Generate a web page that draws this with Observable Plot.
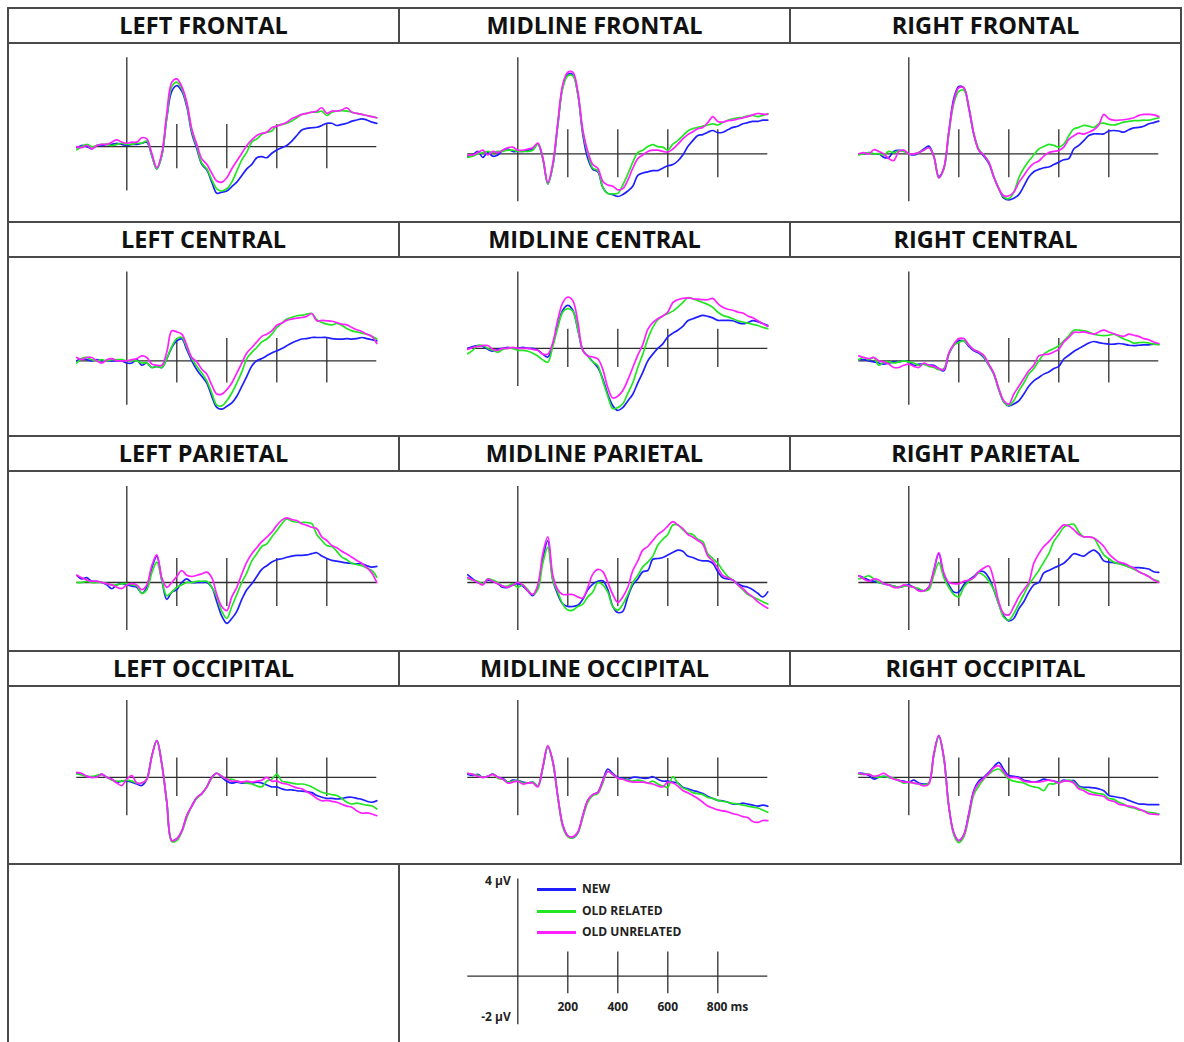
<!DOCTYPE html>
<html>
<head>
<meta charset="utf-8">
<script src="https://cdn.jsdelivr.net/npm/d3@7"></script>
<script src="https://cdn.jsdelivr.net/npm/@observablehq/plot@0.6"></script>
<style>
  body { margin: 0; background: #fff; font-family: "Open Sans", sans-serif; }
  #fig { position: relative; width: 1184px; height: 1042px; overflow: hidden; background: #fff; }
  .ln { position: absolute; background: #4a4a4a; z-index: 3; }
  .ttl { position: absolute; height: 35px; line-height: 35px; text-align: center;
         font-weight: 700; font-size: 23.5px; color: #111; white-space: nowrap; z-index: 2; }
  .panel { position: absolute; z-index: 1; }
  .key { position: absolute; font-weight: 700; font-size: 12px; line-height: 16px; color: #222; z-index: 2; }
  .sw { position: absolute; height: 3px; width: 39px; z-index: 2; }
</style>
</head>
<body>
<div id="fig"></div>
<script>
// ---- data -------------------------------------------------------------
const sides = ["LEFT", "MIDLINE", "RIGHT"];
const areas = ["FRONTAL", "CENTRAL", "PARIETAL", "OCCIPITAL"];
const conditions = ["NEW", "OLD RELATED", "OLD UNRELATED"];
const palette = ["#1f1fff", "#22e622", "#ff1fff"];
const timeTicks = [200, 400, 600, 800];
const timeDomain = [-200, 1000];
const voltDomain = [-2, 4];
const voltLabels = [4, -2];

// sample times (ms)
const times = [-200,-180,-160,-140,-120,-100,-80,-60,-40,-20,0,20,40,60,80,100,120,140,160,180,
  200,220,240,260,280,300,320,340,360,380,400,420,440,460,480,500,520,540,560,580,
  600,620,640,660,680,700,720,740,760,780,800,820,840,860,880,900,920,940,960,980,1000];

// amplitudes (µV), one value per sample time
const lfNew = [-0.05,0.05,0.0,-0.1,0.05,0.05,0.1,0.1,0.15,0.1,0.05, 0.1,0.1,0.15,0.2,-0.4, -1.0,-0.4,1.3,2.5,2.75, 2.5,1.8,0.6,-0.1,-0.8, -1.05,-1.6,-2.1,-2.05,-2.0, -1.8,-1.6,-1.3,-1.0,-0.8, -0.5,-0.45,-0.5,-0.3,-0.15, -0.05,0.05,0.25,0.5,0.75, 0.82,0.85,0.87,0.95,1.05, 1.05,0.95,1.0,1.05,1.15, 1.2,1.25,1.2,1.1,1.05];
const lfOldRel = [-0.15,0.0,0.1,0.0,0.05,0.1,0.1,0.05,0.1,0.15,0.1, 0.1,0.15,0.15,0.25,-0.4, -1.0,-0.4,1.3,2.7,2.9, 2.6,1.9,0.7,0.0,-0.75, -1.0,-1.5,-1.9,-2.0,-1.9, -1.6,-1.1,-0.6,-0.25,0.2, 0.35,0.55,0.65,0.7,0.95, 1.0,1.05,1.15,1.3,1.45, 1.5,1.55,1.55,1.6,1.4, 1.55,1.6,1.62,1.6,1.55, 1.5,1.45,1.4,1.35,1.3];
const lfOldUnrel = [0.0,-0.05,0.05,-0.1,0.05,0.1,0.1,0.2,0.3,0.2,0.15, 0.2,0.2,0.4,0.35,-0.3, -0.95,-0.3,1.5,2.9,3.05, 2.7,2.0,0.8,0.1,-0.55, -0.8,-1.2,-1.55,-1.6,-1.4, -1.0,-0.65,-0.3,0.05,0.3, 0.5,0.6,0.65,0.85,0.92, 1.0,1.1,1.25,1.35,1.45, 1.5,1.55,1.6,1.75,1.5, 1.6,1.6,1.65,1.75,1.55, 1.5,1.45,1.4,1.35,1.3];

const mfNew = [-0.1,-0.05,0.1,-0.15,0.05,-0.1,-0.05,0.15,0.2,0.1,0.1, 0.1,0.15,0.2,0.4,-0.2, -1.25,-0.5,1.2,2.8,3.3, 3.3,2.5,0.8,-0.2,-0.65, -0.75,-1.4,-1.65,-1.7,-1.78, -1.7,-1.55,-1.35,-0.9,-0.8, -0.75,-0.7,-0.7,-0.6,-0.5, -0.45,-0.3,-0.05,0.3,0.55, 0.76,0.8,0.9,0.97,0.88, 0.9,1.0,1.1,1.15,1.25, 1.3,1.35,1.35,1.4,1.4];
const mfOldRel = [-0.15,-0.1,0.0,0.05,0.1,0.05,0.1,0.1,0.15,0.15,0.1, 0.1,0.1,0.15,0.4,-0.2, -1.25,-0.5,1.2,2.75,3.25, 3.25,2.5,0.9,0.0,-0.6, -0.7,-1.4,-1.65,-1.67,-1.65, -1.3,-0.85,-0.35,0.05,0.15, 0.3,0.38,0.3,0.28,0.15, 0.4,0.55,0.75,0.95,1.05, 1.1,1.15,1.2,1.25,1.2, 1.3,1.4,1.46,1.5,1.52, 1.58,1.6,1.55,1.6,1.67];
const mfOldUnrel = [-0.05,-0.05,0.05,0.15,-0.05,0.1,0.05,0.15,0.25,0.28,0.15, 0.15,0.2,0.25,0.45,-0.15, -1.2,-0.4,1.3,2.9,3.4, 3.4,2.6,1.0,0.1,-0.45, -0.6,-1.15,-1.3,-1.35,-1.5, -1.45,-1.1,-0.6,-0.2,-0.05, 0.1,0.15,0.15,0.1,0.07, 0.2,0.4,0.62,0.8,0.92, 1.05,1.1,1.3,1.55,1.35, 1.32,1.38,1.4,1.45,1.5, 1.55,1.62,1.68,1.65,1.64];

const rfNew = [0.0,0.0,0.05,0.0,0.0,-0.15,-0.15,0.1,0.14,0.12,0.0, -0.05,0.05,0.2,0.32,-0.1, -0.95,-0.6,0.9,2.3,2.8, 2.75,1.9,0.8,0.15,-0.1, -0.4,-0.97,-1.45,-1.85,-1.92, -1.85,-1.7,-1.35,-0.97,-0.75, -0.65,-0.58,-0.55,-0.45,-0.35, -0.25,-0.2,0.2,0.35,0.55, 0.76,0.83,0.83,0.83,0.95, 0.97,0.95,0.9,1.0,1.08, 1.1,1.15,1.25,1.3,1.36];
const rfOldRel = [-0.05,0.0,0.05,0.0,0.0,-0.05,0.1,0.05,0.12,0.1,0.0, 0.0,0.05,0.15,0.25,-0.1, -1.0,-0.65,0.8,2.1,2.6, 2.65,1.95,0.85,0.2,-0.05, -0.35,-0.95,-1.45,-1.8,-1.87, -1.6,-1.0,-0.6,-0.3,-0.05, 0.2,0.3,0.39,0.35,0.28, 0.4,0.75,1.04,1.1,1.18, 1.15,1.1,1.25,1.28,1.22, 1.2,1.25,1.32,1.35,1.38, 1.38,1.4,1.4,1.45,1.5];
const rfOldUnrel = [0.0,0.05,0.0,0.17,0.1,0.0,-0.2,-0.28,0.1,0.15,0.0, 0.0,0.05,0.15,0.25,-0.1, -1.0,-0.6,0.9,2.2,2.75, 2.75,1.95,0.85,0.15,-0.05, -0.35,-0.95,-1.45,-1.75,-1.75, -1.6,-1.2,-0.9,-0.6,-0.4, -0.3,-0.1,0.05,0.1,0.14, 0.28,0.6,0.75,0.86,0.82, 0.9,1.0,1.2,1.64,1.46, 1.4,1.4,1.42,1.45,1.5, 1.6,1.64,1.64,1.62,1.55];

const lcNew = [0.0,0.1,0.05,0.0,0.05,0.0,0.0,0.0,0.0,0.0,-0.1, -0.1,0.05,-0.2,-0.1,-0.3, -0.25,-0.3,0.1,0.6,0.9, 0.98,0.5,0.0,-0.4,-0.7, -1.0,-1.6,-2.1,-2.18,-2.05, -1.9,-1.6,-1.15,-0.7,-0.23, 0.0,0.1,0.23,0.35,0.45, 0.55,0.68,0.8,0.9,0.98, 1.0,1.05,1.05,1.05,1.05, 1.0,0.98,0.98,1.0,0.98, 1.0,1.05,1.0,0.95,0.9];
const lcOldRel = [-0.1,0.1,0.15,0.05,0.0,0.05,0.0,0.05,0.05,0.05,0.0, 0.0,0.0,-0.1,-0.1,-0.3, -0.25,-0.3,0.1,0.65,1.0, 1.05,0.6,0.1,-0.25,-0.55, -0.9,-1.45,-2.0,-2.03,-1.8, -1.45,-1.0,-0.5,0.1,0.38, 0.6,0.85,0.98,1.2,1.5, 1.7,1.88,1.95,2.03,2.05, 2.1,2.13,1.85,1.73,1.65, 1.62,1.68,1.6,1.45,1.35, 1.3,1.25,1.2,1.1,0.98];
const lcOldUnrel = [0.15,0.05,0.15,0.15,0.0,-0.1,0.05,0.1,0.0,0.0,0.0, 0.05,0.1,0.22,0.15,-0.15, -0.2,-0.2,0.4,1.35,1.3, 1.2,0.7,0.15,-0.05,-0.38, -0.6,-1.1,-1.5,-1.5,-1.3, -1.0,-0.55,-0.1,0.35,0.6, 0.85,1.1,1.2,1.35,1.6, 1.7,1.82,1.88,1.92,1.95, 2.0,2.13,1.8,1.82,1.8, 1.78,1.72,1.65,1.62,1.5, 1.4,1.32,1.2,1.1,0.78];

const mcNew = [0.0,0.1,0.15,0.1,-0.05,-0.15,-0.05,0.0,0.05,0.0,0.0, 0.05,0.0,0.0,-0.1,-0.3, -0.45,0.2,1.2,2.0,2.25, 2.0,1.0,-0.1,-0.4,-0.7, -1.0,-1.6,-2.4,-3.0,-3.25, -3.1,-2.75,-2.4,-1.8,-1.25, -0.65,-0.3,0.0,0.24,0.6, 0.8,0.95,1.15,1.45,1.55, 1.65,1.73,1.68,1.6,1.47, 1.47,1.47,1.45,1.35,1.29, 1.35,1.45,1.4,1.3,1.2];
const mcOldRel = [-0.28,-0.1,0.15,0.15,0.0,-0.1,-0.2,-0.05,0.0,0.0,-0.1, -0.1,-0.15,-0.25,-0.4,-0.6, -0.72,0.1,1.1,1.9,2.08, 1.95,1.0,-0.1,-0.4,-0.7, -0.9,-1.7,-2.5,-3.15,-3.1, -2.9,-2.35,-1.8,-1.0,-0.3, 0.5,1.1,1.5,1.7,1.82, 1.95,2.16,2.4,2.65,2.6, 2.5,2.4,2.3,2.15,1.9, 1.73,1.65,1.55,1.45,1.38, 1.32,1.26,1.2,1.1,1.03];
const mcOldUnrel = [-0.05,0.05,0.1,0.15,0.15,-0.05,-0.1,0.0,0.0,0.05,0.0, 0.0,0.0,-0.05,-0.1,-0.3, -0.3,0.3,1.5,2.4,2.69, 2.5,1.4,-0.1,-0.4,-0.45, -0.55,-1.1,-2.05,-2.6,-2.5, -2.2,-1.65,-1.0,-0.35,0.2, 1.0,1.35,1.55,1.7,1.9, 2.4,2.55,2.62,2.65,2.6, 2.58,2.55,2.55,2.62,2.35, 2.15,2.05,2.0,1.9,1.85, 1.7,1.6,1.45,1.3,1.15];

const rcNew = [0.05,0.05,0.0,-0.05,-0.1,-0.15,-0.1,-0.05,-0.05,0.0,-0.05, -0.2,-0.15,-0.15,-0.2,-0.2, -0.35,-0.45,0.3,0.7,0.9, 0.9,0.65,0.45,0.35,0.15, -0.2,-0.6,-1.3,-1.85,-2.03, -1.95,-1.8,-1.5,-1.15,-0.9, -0.75,-0.6,-0.5,-0.35,-0.25, 0.08,0.25,0.42,0.55,0.68, 0.8,0.87,0.82,0.78,0.75, 0.75,0.78,0.75,0.7,0.68, 0.7,0.72,0.72,0.75,0.75];
const rcOldRel = [0.05,0.15,0.05,0.15,-0.2,-0.05,-0.05,-0.1,-0.05,0.0,-0.05, -0.1,-0.2,-0.15,-0.25,-0.3, -0.4,-0.35,0.3,0.7,0.83, 0.9,0.7,0.5,0.4,0.2, -0.2,-0.6,-1.3,-1.85,-2.0, -1.8,-1.35,-1.0,-0.6,-0.35, 0.0,0.3,0.45,0.55,0.68, 0.9,1.13,1.38,1.38,1.35, 1.3,1.2,1.15,1.13,1.15, 1.2,1.1,0.98,0.9,0.8, 0.82,0.83,0.8,0.75,0.72];
const rcOldUnrel = [0.22,0.15,0.1,0.15,0.0,-0.05,-0.15,-0.3,-0.3,-0.2,-0.15, -0.25,-0.3,-0.1,-0.2,-0.25, -0.35,-0.4,0.35,0.75,1.0, 1.0,0.72,0.5,0.4,0.25, -0.15,-0.55,-1.25,-1.8,-1.95, -1.5,-1.15,-0.8,-0.45,-0.2, 0.22,0.28,0.3,0.4,0.52, 0.85,1.05,1.28,1.28,1.3, 1.25,1.2,1.3,1.38,1.3, 1.22,1.15,1.1,1.2,1.15, 1.1,1.0,0.95,0.85,0.78];

const lpNew = [0.3,0.15,0.2,0.05,0.05,0.0,-0.1,-0.26,-0.1,-0.05,-0.1, -0.15,-0.2,-0.45,-0.2,0.6, 1.1,0.1,-0.7,-0.4,-0.3, 0.0,0.15,0.0,0.0,0.0, 0.0,-0.2,-0.8,-1.4,-1.7, -1.5,-1.2,-0.7,-0.3,-0.05, 0.25,0.55,0.7,0.85,0.95, 0.99,1.05,1.1,1.13,1.13, 1.15,1.2,1.24,1.1,1.0, 0.92,0.89,0.85,0.82,0.8, 0.78,0.78,0.7,0.64,0.67];
const lpOldRel = [0.0,0.0,0.05,0.0,0.0,0.0,-0.05,-0.1,-0.1,-0.05,-0.05, -0.1,-0.15,-0.45,-0.3,0.4, 0.85,0.1,-0.55,-0.4,-0.2, -0.1,0.0,0.0,0.05,0.05, 0.05,-0.2,-0.6,-1.2,-1.5, -1.0,-0.5,0.0,0.4,0.9, 1.2,1.5,1.61,1.9,2.17, 2.45,2.65,2.55,2.51,2.5, 2.5,2.45,2.0,1.75,1.54, 1.5,1.3,1.06,0.95,0.8, 0.75,0.7,0.6,0.5,0.22];
const lpOldUnrel = [0.3,0.2,0.1,0.05,0.05,0.0,-0.05,-0.1,-0.2,-0.25,-0.1, -0.05,-0.1,-0.3,-0.1,0.7, 1.15,0.2,-0.2,0.0,0.25, 0.5,0.3,0.25,0.3,0.36, 0.43,0.2,-0.5,-1.0,-1.17, -0.6,-0.2,0.35,0.85,1.2, 1.45,1.7,1.89,2.1,2.38, 2.6,2.69,2.62,2.58,2.45, 2.38,2.3,2.24,1.9,1.75, 1.54,1.45,1.3,1.19,1.05, 0.92,0.8,0.62,0.4,0.0];

const mpNew = [0.32,0.15,0.0,-0.05,0.1,0.05,-0.05,-0.2,-0.2,-0.1,-0.05, -0.15,-0.35,-0.55,-0.2,1.0, 1.74,0.1,-0.5,-0.9,-1.0, -1.0,-0.95,-0.7,-0.3,-0.07, 0.05,0.07,-0.3,-1.0,-1.25, -1.2,-0.6,-0.1,0.15,0.45, 0.5,0.97,1.0,1.04,1.15, 1.25,1.35,1.3,1.1,1.04, 0.95,0.9,0.9,0.8,0.45, 0.2,0.15,0.1,-0.05,-0.15, -0.2,-0.3,-0.45,-0.6,-0.39];
const mpOldRel = [0.15,0.1,0.05,-0.05,0.15,0.1,0.0,-0.15,-0.15,-0.05,-0.2, -0.1,-0.3,-0.5,-0.3,0.8, 1.46,0.1,-0.4,-0.9,-1.15, -1.15,-1.0,-0.9,-0.6,-0.4, 0.0,-0.1,-0.4,-1.0,-1.15, -0.9,-0.5,0.0,0.3,0.65, 0.85,1.1,1.55,1.8,2.0, 2.4,2.4,2.2,2.05,2.0, 1.8,1.7,1.2,1.0,0.8, 0.5,0.25,0.1,-0.1,-0.3, -0.5,-0.6,-0.7,-0.8,-0.9];
const mpOldUnrel = [0.2,0.1,0.0,-0.1,0.14,0.05,-0.05,-0.15,-0.2,-0.1,0.0, -0.1,-0.35,-0.5,-0.1,1.2, 1.9,0.3,-0.3,-0.5,-0.5, -0.5,-0.6,-0.65,-0.2,0.35, 0.55,0.45,0.0,-0.5,-0.83, -0.6,-0.2,0.5,0.9,1.35, 1.5,1.75,2.0,2.15,2.35, 2.54,2.4,2.25,2.0,1.9, 1.75,1.6,1.1,0.9,0.6, 0.3,0.2,0.1,-0.1,-0.25, -0.45,-0.6,-0.8,-0.95,-1.07];

const rpNew = [0.28,0.2,0.1,0.05,0.0,-0.05,-0.1,-0.15,-0.2,-0.15,-0.1, -0.2,-0.3,-0.35,-0.2,0.5, 1.2,0.3,-0.1,-0.4,-0.4, -0.1,0.1,0.25,0.45,0.45, 0.2,-0.3,-0.9,-1.4,-1.6, -1.5,-1.1,-0.8,-0.4,-0.1, 0.0,0.4,0.5,0.6,0.7, 0.8,1.0,1.2,1.15,1.1, 1.25,1.35,1.2,0.9,0.85, 0.83,0.8,0.75,0.65,0.62, 0.62,0.6,0.56,0.45,0.42];
const rpOldRel = [0.15,0.2,0.28,0.15,0.0,-0.05,-0.1,-0.15,-0.2,-0.15,-0.15, -0.2,-0.25,-0.35,-0.3,0.3, 0.83,0.2,-0.2,-0.5,-0.6, -0.2,0.05,0.2,0.4,0.3, 0.05,-0.3,-0.9,-1.45,-1.57, -1.3,-0.9,-0.5,-0.1,0.2, 0.5,0.85,1.2,1.7,2.0, 2.3,2.4,2.43,2.1,1.9, 1.9,1.85,1.5,1.15,1.0, 0.85,0.78,0.72,0.65,0.55, 0.45,0.35,0.25,0.12,0.05];
const rpOldUnrel = [0.28,0.15,0.05,0.15,0.1,-0.05,-0.1,-0.2,-0.2,-0.1,-0.15, -0.2,-0.35,-0.35,-0.2,0.5, 1.25,0.4,0.0,-0.05,-0.05, 0.05,0.1,0.2,0.45,0.6, 0.69,0.1,-0.8,-1.3,-1.35, -1.0,-0.6,-0.3,0.0,0.8, 1.2,1.5,1.7,1.95,2.2, 2.4,2.35,2.2,2.0,1.9, 1.9,1.85,1.7,1.5,1.2, 1.0,0.85,0.8,0.7,0.6, 0.45,0.35,0.25,0.1,0.0];

const loNew = [0.2,0.15,0.05,0.0,0.05,0.15,0.0,-0.1,-0.25,-0.2,-0.2, -0.25,-0.35,-0.43,-0.1,1.1, 1.91,0.7,-1.3,-3.3,-3.2, -2.8,-2.0,-1.5,-1.05,-0.85, -0.5,0.0,0.21,0.0,-0.2, -0.3,-0.25,-0.3,-0.3,-0.3, -0.25,-0.3,-0.4,-0.5,-0.5, -0.6,-0.66,-0.65,-0.7,-0.72, -0.75,-0.8,-0.95,-1.04,-1.1, -1.1,-1.13,-1.1,-1.05,-1.04, -1.1,-1.15,-1.25,-1.3,-1.22];
const loOldRel = [0.17,0.12,0.05,0.05,0.1,0.15,0.0,-0.15,-0.2,-0.2,-0.15, -0.2,-0.3,-0.3,-0.1,1.1, 1.91,0.7,-1.3,-3.35,-3.3, -2.85,-2.1,-1.5,-1.1,-0.87, -0.5,-0.05,0.21,0.05,-0.1, -0.1,-0.2,-0.25,-0.3,-0.35, -0.45,-0.5,-0.2,-0.1,0.17, -0.2,-0.25,-0.3,-0.35,-0.35, -0.4,-0.5,-0.65,-0.78,-0.85, -0.9,-0.95,-1.1,-1.3,-1.39, -1.35,-1.4,-1.45,-1.48,-1.65];
const loOldUnrel = [0.26,0.2,0.05,0.0,0.0,0.17,0.0,-0.1,-0.3,-0.43,-0.1, 0.09,-0.3,-0.3,-0.1,1.1, 1.91,0.7,-1.3,-3.3,-3.2, -2.8,-2.0,-1.5,-1.05,-0.85, -0.5,0.0,0.21,0.05,-0.1, -0.2,-0.2,-0.25,-0.2,-0.25, -0.2,-0.15,0.0,-0.2,-0.2, -0.3,-0.35,-0.45,-0.55,-0.6, -0.75,-0.9,-1.1,-1.22,-1.2, -1.25,-1.3,-1.4,-1.5,-1.56, -1.75,-1.87,-1.85,-1.91,-2.0];

const moNew = [0.15,0.1,0.15,0.0,0.05,0.17,0.0,-0.05,-0.25,-0.15,-0.17, -0.25,-0.3,-0.25,-0.45,0.5, 1.6,0.8,-1.0,-2.5,-3.05, -3.15,-2.9,-2.0,-1.2,-0.9, -0.78,-0.17,0.43,0.2,0.0, -0.05,-0.1,0.0,0.0,-0.05, -0.05,0.03,-0.1,-0.2,-0.2, -0.25,-0.3,-0.52,-0.6,-0.69, -0.75,-0.85,-1.0,-1.1,-1.2, -1.22,-1.3,-1.39,-1.4,-1.35, -1.4,-1.45,-1.5,-1.45,-1.51];
const moOldRel = [0.2,0.15,0.1,0.0,0.05,0.17,-0.05,-0.1,-0.25,-0.2,-0.17, -0.3,-0.3,-0.25,-0.45,0.5, 1.6,0.8,-1.0,-2.6,-3.1, -3.15,-2.9,-2.1,-1.3,-0.95, -0.85,-0.3,0.3,0.15,-0.05, -0.1,-0.15,-0.2,-0.15,-0.2, -0.3,-0.2,-0.35,-0.45,-0.52, 0.03,-0.3,-0.55,-0.65,-0.8, -0.85,-0.9,-1.05,-1.1,-1.2, -1.25,-1.3,-1.35,-1.39,-1.45, -1.5,-1.55,-1.6,-1.7,-1.82];
const moOldUnrel = [0.2,0.15,0.05,0.0,0.05,0.15,0.0,-0.1,-0.3,-0.25,-0.2, -0.35,-0.3,-0.3,-0.5,0.55, 1.65,0.85,-1.0,-2.5,-3.05, -3.1,-2.85,-2.0,-1.2,-0.9, -0.8,-0.2,0.3,0.15,-0.05, -0.1,-0.2,-0.25,-0.25,-0.25, -0.3,-0.35,-0.45,-0.5,-0.25, -0.3,-0.45,-0.69,-0.8,-0.95, -1.1,-1.3,-1.5,-1.6,-1.7, -1.75,-1.8,-1.9,-1.95,-2.05, -2.1,-2.3,-2.35,-2.25,-2.26];

const roNew = [0.21,0.2,0.1,-0.09,0.0,0.05,0.0,-0.05,-0.17,-0.2,-0.26, -0.15,-0.3,-0.35,-0.3,1.2, 2.17,1.04,-1.5,-2.9,-3.3, -3.0,-1.9,-0.69,-0.2,0.0, 0.26,0.55,0.78,0.4,0.09, 0.05,0.0,-0.15,-0.2,-0.25, -0.2,-0.1,-0.15,-0.2,-0.26, -0.15,-0.2,-0.17,-0.45,-0.52, -0.52,-0.55,-0.6,-0.7,-0.95, -1.0,-1.05,-1.1,-1.2,-1.3, -1.39,-1.4,-1.42,-1.42,-1.42];
const roOldRel = [0.17,0.15,0.17,0.05,0.0,0.05,0.0,-0.05,-0.15,-0.3,-0.26, -0.3,-0.35,-0.4,-0.3,1.1, 2.1,1.0,-1.5,-3.0,-3.4, -3.1,-2.1,-0.9,-0.45,-0.1, 0.15,0.35,0.43,0.2,-0.1, -0.2,-0.25,-0.3,-0.43,-0.5, -0.55,-0.69,-0.35,-0.35,-0.26, -0.2,-0.15,-0.25,-0.5,-0.6, -0.7,-0.8,-0.85,-0.9,-1.1, -1.15,-1.3,-1.4,-1.55,-1.6, -1.7,-1.75,-1.82,-1.85,-1.91];
const roOldUnrel = [0.21,0.15,0.15,0.05,0.1,0.21,0.05,-0.1,-0.15,-0.25,-0.25, -0.3,-0.35,-0.45,-0.35,1.2, 2.17,1.04,-1.5,-2.9,-3.3, -3.0,-1.95,-0.75,-0.3,-0.05, 0.2,0.5,0.6,0.3,0.0, 0.0,-0.05,-0.2,-0.25,-0.25, -0.25,-0.2,-0.15,-0.2,-0.3, -0.2,-0.2,-0.3,-0.6,-0.7, -0.85,-0.9,-0.95,-1.0,-1.2, -1.25,-1.4,-1.45,-1.5,-1.55, -1.65,-1.75,-1.9,-1.92,-1.94];

// panels by row (area) and column (side)
const series = [
  [[lfNew, lfOldRel, lfOldUnrel], [mfNew, mfOldRel, mfOldUnrel], [rfNew, rfOldRel, rfOldUnrel]],
  [[lcNew, lcOldRel, lcOldUnrel], [mcNew, mcOldRel, mcOldUnrel], [rcNew, rcOldRel, rcOldUnrel]],
  [[lpNew, lpOldRel, lpOldUnrel], [mpNew, mpOldRel, mpOldUnrel], [rpNew, rpOldRel, rpOldUnrel]],
  [[loNew, loOldRel, loOldUnrel], [moNew, moOldRel, moOldUnrel], [roNew, roOldRel, roOldUnrel]]
];

// ---- layout -------------------------------------------------------------
const colLeft = [8, 399, 790];
const colWidth = 391;
const tableRight = 1181;
const titleTop = [8, 222, 436, 651];
const titleH = 35;
const keyRowTop = 864;
const pageBottom = 1042;
const axisTop = [57.3, 271.5, 486, 700];           // page y of the +4 µV end of each row's axis
const pxPerUV = [[22.2, 24, 24], [22.2, 19.1, 22.2], [24, 24, 24], [19.2, 19.2, 19.2]];
const xRange = [68.3, 368.3];                       // -200 ms .. 1000 ms inside a column
const axisColor = "#2e2e2e";

const fig = document.getElementById("fig");

function line(x, y, w, h) {
  const d = document.createElement("div");
  d.className = "ln";
  Object.assign(d.style, {left: x + "px", top: y + "px", width: w + "px", height: h + "px"});
  fig.appendChild(d);
}
const hline = (x1, x2, y) => line(x1 - 1, y - 1, x2 - x1 + 2, 2);
const vline = (x, y1, y2) => line(x - 1, y1 - 1, 2, y2 - y1 + 2);

// table frame
vline(colLeft[0], titleTop[0], pageBottom + 2);
vline(tableRight, titleTop[0], keyRowTop);
titleTop.forEach(t => {
  hline(colLeft[0], tableRight, t);
  hline(colLeft[0], tableRight, t + titleH);
  vline(colLeft[1], t, t + titleH);
  vline(colLeft[2], t, t + titleH);
});
hline(colLeft[0], tableRight, keyRowTop);
vline(colLeft[1], keyRowTop, pageBottom + 2);

function axesMarks(tickLow) {
  return [
    Plot.ruleY([0], {x1: timeDomain[0], x2: timeDomain[1], stroke: axisColor, strokeWidth: 1.3}),
    Plot.ruleX([0], {y1: voltDomain[0], y2: voltDomain[1], stroke: axisColor, strokeWidth: 1.3}),
    Plot.ruleX(timeTicks, {y1: tickLow, y2: 1, stroke: axisColor, strokeWidth: 1.3})
  ];
}

function place(svg, left, top) {
  const wrap = document.createElement("div");
  wrap.className = "panel";
  wrap.style.left = left + "px";
  wrap.style.top = top + "px";
  wrap.appendChild(svg);
  fig.appendChild(wrap);
}

areas.forEach((area, r) => {
  const top = titleTop[r] + titleH;
  const bottom = r < areas.length - 1 ? titleTop[r + 1] : keyRowTop;
  const h = bottom - top;
  sides.forEach((side, c) => {
    // title cell
    const t = document.createElement("div");
    t.className = "ttl";
    t.style.left = colLeft[c] + "px";
    t.style.top = titleTop[r] + "px";
    t.style.width = colWidth + "px";
    t.textContent = `${side} ${area}`;
    fig.appendChild(t);

    const s = pxPerUV[r][c];
    const yTop = axisTop[r] - top;
    const rows = [];
    series[r][c].forEach((vals, k) => {
      vals.forEach((v, i) => rows.push({t: times[i], v, cond: conditions[k]}));
    });
    const svg = Plot.plot({
      width: colWidth, height: h, margin: 0,
      style: {background: "transparent", overflow: "visible"},
      x: {domain: timeDomain, range: xRange, axis: null},
      y: {domain: voltDomain, range: [yTop + 6 * s, yTop], axis: null},
      color: {domain: conditions, range: palette},
      marks: [
        ...axesMarks(-1),
        Plot.line(rows, {x: "t", y: "v", z: "cond", stroke: "cond", curve: "catmull-rom",
                         strokeWidth: 1.7, strokeLinejoin: "round"})
      ]
    });
    place(svg, colLeft[c], top);
  });
});

// ---- key panel: scale bars and condition colours ---------------------
{
  const top = keyRowTop;
  const h = pageBottom - keyRowTop;
  const s = 24.3;
  const yTop = 878.5 - top;
  const labelStyle = {fontWeight: 700, fontSize: 12, fill: "#222"};
  const lastTick = timeTicks[timeTicks.length - 1];
  const svg = Plot.plot({
    width: colWidth, height: h, margin: 0,
    style: {background: "transparent", overflow: "visible", fontFamily: "Open Sans, sans-serif"},
    x: {domain: timeDomain, range: xRange, axis: null},
    y: {domain: voltDomain, range: [yTop + 6 * s, yTop], axis: null},
    marks: [
      ...axesMarks(-0.72),
      // time labels sit just above the bottom end of the voltage bar
      Plot.text(timeTicks.slice(0, -1), {x: d => d, y: voltDomain[0], text: d => String(d),
        dy: -17.5, ...labelStyle}),
      Plot.text([lastTick], {x: d => d, y: voltDomain[0], text: d => `${d} ms`,
        textAnchor: "start", dx: -11, dy: -17.5, ...labelStyle}),
      Plot.text(voltLabels.slice(0, 1), {x: 0, y: d => d, text: d => `${d} µV`, textAnchor: "end",
        dx: -7, dy: 2, ...labelStyle}),
      Plot.text(voltLabels.slice(1), {x: 0, y: d => d, text: d => `${d} µV`, textAnchor: "end",
        dx: -7, dy: -8, ...labelStyle})
    ]
  });
  place(svg, colLeft[1], top);

  // condition colour key
  const keyTop = [889.3, 911, 932.3];
  conditions.forEach((name, i) => {
    const sw = document.createElement("div");
    sw.className = "sw";
    sw.style.left = "537px";
    sw.style.top = (keyTop[i] - 1.5) + "px";
    sw.style.background = palette[i];
    fig.appendChild(sw);
    const lab = document.createElement("div");
    lab.className = "key";
    lab.style.left = "582px";
    lab.style.top = (keyTop[i] - 8) + "px";
    lab.textContent = name;
    fig.appendChild(lab);
  });
}
</script>
</body>
</html>
